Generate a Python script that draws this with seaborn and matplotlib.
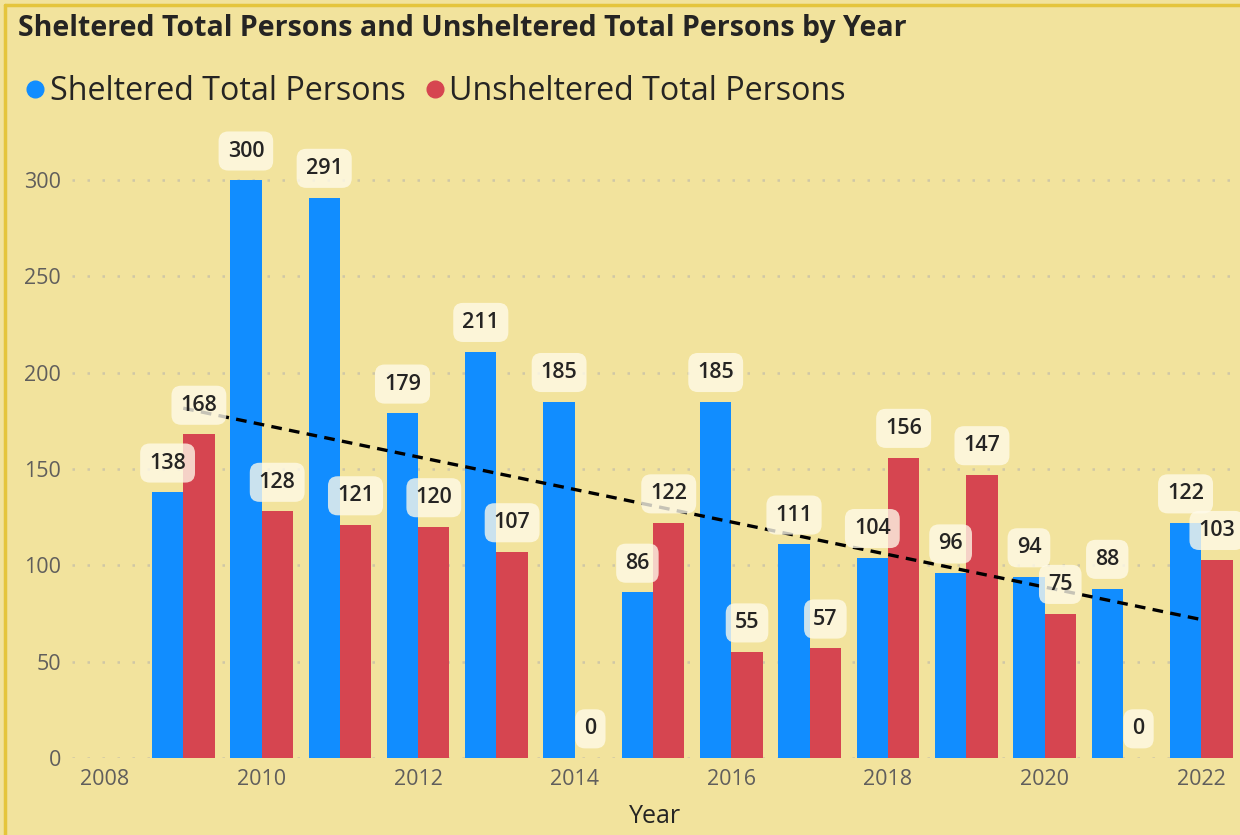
import numpy as np
import pandas as pd
import matplotlib
matplotlib.use("Agg")
import matplotlib.pyplot as plt
import seaborn as sns
from matplotlib.lines import Line2D

# =========================
# DATA
# =========================
years = [2009, 2010, 2011, 2012, 2013, 2014, 2015, 2016, 2017, 2018, 2019, 2020, 2021, 2022]
sheltered = [138, 300, 291, 179, 211, 185, 86, 185, 111, 104, 96, 94, 88, 122]
unsheltered = [168, 128, 121, 120, 107, 0, 122, 55, 57, 156, 147, 75, 0, 103]
series_names = ["Sheltered Total Persons", "Unsheltered Total Persons"]
x_ticks = [2008, 2010, 2012, 2014, 2016, 2018, 2020, 2022]
y_ticks = [0, 50, 100, 150, 200, 250, 300]

df = pd.DataFrame({
    "Year": years * 2,
    "Persons": sheltered + unsheltered,
    "Series": [series_names[0]] * len(years) + [series_names[1]] * len(years),
})

# =========================
# STYLE
# =========================
BG = "#F2E39D"
BLUE = "#118DFF"
RED = "#D64550"
TXT = "#252423"
GREY = "#605E5C"

sns.set_theme(style="white")
plt.rcParams["font.family"] = ["Open Sans", "DejaVu Sans"]

fig = plt.figure(figsize=(12.4, 8.35), dpi=100, facecolor=BG)
ax = fig.add_axes([0.0581, 0.0922, 0.9403, 0.752])
ax.set_facecolor(BG)

# =========================
# BARS
# =========================
sns.barplot(
    data=df, x="Year", y="Persons", hue="Series",
    palette=[BLUE, RED], native_scale=True, width=0.8,
    errorbar=None, saturation=1, linewidth=0, ax=ax, zorder=2,
)
ax.get_legend().remove()

# trend line over both series
coef = np.polyfit(df["Year"], df["Persons"], 1)
tx = np.array([min(years), max(years)])
ax.plot(tx, np.polyval(coef, tx), color="black", ls=(0, (3.2, 2.2)),
        lw=2.4, zorder=4)

# data labels
for cont in ax.containers:
    for bar in cont:
        h = bar.get_height()
        ax.annotate(
            f"{h:.0f}", (bar.get_x() + bar.get_width() / 2, h),
            xytext=(0, 21), textcoords="offset points",
            ha="center", va="center", fontsize=15.5, fontweight="semibold",
            color=TXT, zorder=6,
            bbox=dict(boxstyle="round,pad=0.42,rounding_size=0.45",
                      fc="#FFFBEA", ec="none", alpha=0.78),
        )

# =========================
# AXES
# =========================
ax.set_xlim(2007.58, 2022.47)
ax.set_ylim(0, 326)
ax.set_xticks(x_ticks)
ax.set_yticks(y_ticks)
ax.tick_params(axis="both", length=0, labelsize=15.5, labelcolor=GREY)
ax.tick_params(axis="x", pad=8)
ax.tick_params(axis="y", pad=8)
ax.yaxis.grid(True, color="#CFC7A6", ls=(0, (1, 5)), lw=1.8, zorder=0)
ax.set_axisbelow(True)
for s in ax.spines.values():
    s.set_visible(False)
ax.set_xlabel("Year", fontsize=18, color=TXT, labelpad=10)
ax.set_ylabel("")

# title and legend
fig.text(0.0145, 0.966, "Sheltered Total Persons and Unsheltered Total Persons by Year",
         fontsize=20.5, fontweight="bold", color=TXT, va="center", ha="left")
handles = [
    Line2D([], [], marker="o", ls="none", markersize=12, color=BLUE),
    Line2D([], [], marker="o", ls="none", markersize=12, color=RED),
]
fig.legend(handles, series_names, loc="center left", bbox_to_anchor=(0.0, 0.89),
           ncol=2, frameon=False, fontsize=23.2, handlelength=0.6,
           handletextpad=0.15, columnspacing=0.6, borderpad=0.3,
           labelcolor=TXT)

# frame border (top and left)
fig.add_artist(Line2D([0.004, 1.0], [0.994, 0.994], color="#E5C53C", lw=2.5))
fig.add_artist(Line2D([0.004, 0.004], [0.0, 0.994], color="#E5C53C", lw=2.5))

fig.savefig("out.png", dpi=100, facecolor=BG)
